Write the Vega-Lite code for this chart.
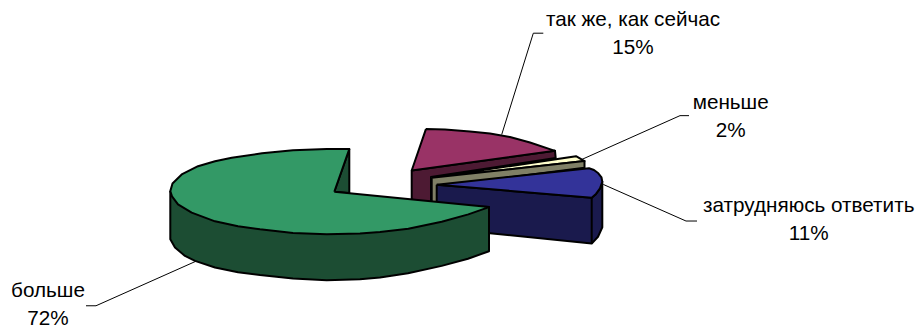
{"$schema":"https://vega.github.io/schema/vega-lite/v6.json","width":921,"height":329,"padding":0,"autosize":{"type":"fit","contains":"padding"},"background":"white","config":{"view":{"stroke":null}},
"datasets":{
"outline":[
{"p":"01 так же сторона","i":0,"x":411.7,"y":171},{"p":"01 так же сторона","i":1,"x":555,"y":151.3},{"p":"01 так же сторона","i":2,"x":555.7,"y":158.5},{"p":"01 так же сторона","i":3,"x":431,"y":177.5},{"p":"01 так же сторона","i":4,"x":431,"y":205},{"p":"01 так же сторона","i":5,"x":411.7,"y":200},{"p":"01 так же сторона","i":6,"x":411.7,"y":171},
{"p":"02 так же верх","i":0,"x":426,"y":129.3},{"p":"02 так же верх","i":1,"x":445,"y":129.8},{"p":"02 так же верх","i":2,"x":470,"y":131.8},{"p":"02 так же верх","i":3,"x":490,"y":134},{"p":"02 так же верх","i":4,"x":510,"y":137.5},{"p":"02 так же верх","i":5,"x":530,"y":143},{"p":"02 так же верх","i":6,"x":555,"y":151.3},{"p":"02 так же верх","i":7,"x":411.7,"y":171},{"p":"02 так же верх","i":8,"x":426,"y":129.3},
{"p":"03 меньше верх","i":0,"x":431.7,"y":178.3},{"p":"03 меньше верх","i":1,"x":576,"y":156.7},{"p":"03 меньше верх","i":2,"x":584.5,"y":161.5},{"p":"03 меньше верх","i":3,"x":431.7,"y":178.3},
{"p":"04 меньше сторона","i":0,"x":431.7,"y":178.3},{"p":"04 меньше сторона","i":1,"x":584.5,"y":161.5},{"p":"04 меньше сторона","i":2,"x":584.5,"y":168.3},{"p":"04 меньше сторона","i":3,"x":437,"y":187},{"p":"04 меньше сторона","i":4,"x":437,"y":205},{"p":"04 меньше сторона","i":5,"x":431.7,"y":205},{"p":"04 меньше сторона","i":6,"x":431.7,"y":178.3},
{"p":"05 затрудняюсь сторона","i":0,"x":436.7,"y":185.3},{"p":"05 затрудняюсь сторона","i":1,"x":591.7,"y":198.3},{"p":"05 затрудняюсь сторона","i":2,"x":596,"y":194.5},{"p":"05 затрудняюсь сторона","i":3,"x":600,"y":189},{"p":"05 затрудняюсь сторона","i":4,"x":602.3,"y":182.3},{"p":"05 затрудняюсь сторона","i":5,"x":602.3,"y":228},{"p":"05 затрудняюсь сторона","i":6,"x":598,"y":237.5},{"p":"05 затрудняюсь сторона","i":7,"x":591.7,"y":244.3},{"p":"05 затрудняюсь сторона","i":8,"x":490,"y":234},{"p":"05 затрудняюсь сторона","i":9,"x":436.7,"y":228},{"p":"05 затрудняюсь сторона","i":10,"x":436.7,"y":185.3},
{"p":"06 затрудняюсь ребро","i":0,"x":591.7,"y":198.3},{"p":"06 затрудняюсь ребро","i":1,"x":591.7,"y":244.3},
{"p":"07 затрудняюсь верх","i":0,"x":436.7,"y":185.3},{"p":"07 затрудняюсь верх","i":1,"x":589,"y":168.8},{"p":"07 затрудняюсь верх","i":2,"x":594,"y":170.5},{"p":"07 затрудняюсь верх","i":3,"x":598.3,"y":173.8},{"p":"07 затрудняюсь верх","i":4,"x":601.5,"y":178},{"p":"07 затрудняюсь верх","i":5,"x":602.3,"y":182.3},{"p":"07 затрудняюсь верх","i":6,"x":600,"y":189},{"p":"07 затрудняюсь верх","i":7,"x":596,"y":194.5},{"p":"07 затрудняюсь верх","i":8,"x":591.7,"y":198.3},{"p":"07 затрудняюсь верх","i":9,"x":436.7,"y":185.3},
{"p":"08 больше выемка","i":0,"x":349.3,"y":149.5},{"p":"08 больше выемка","i":1,"x":334.3,"y":192.3},{"p":"08 больше выемка","i":2,"x":349.3,"y":193.5},{"p":"08 больше выемка","i":3,"x":349.3,"y":149.5},
{"p":"09 больше сторона","i":0,"x":170.3,"y":191.7},{"p":"09 больше сторона","i":1,"x":170.3,"y":240},{"p":"09 больше сторона","i":2,"x":175,"y":248.3},{"p":"09 больше сторона","i":3,"x":185,"y":256.7},{"p":"09 больше сторона","i":4,"x":195,"y":261.7},{"p":"09 больше сторона","i":5,"x":215,"y":268.3},{"p":"09 больше сторона","i":6,"x":238,"y":273},{"p":"09 больше сторона","i":7,"x":260,"y":275.9},{"p":"09 больше сторона","i":8,"x":293,"y":279.3},{"p":"09 больше сторона","i":9,"x":326.7,"y":281},{"p":"09 больше сторона","i":10,"x":360,"y":280},{"p":"09 больше сторона","i":11,"x":380,"y":278.3},{"p":"09 больше сторона","i":12,"x":408,"y":274},{"p":"09 больше сторона","i":13,"x":441.7,"y":266.7},{"p":"09 больше сторона","i":14,"x":468,"y":259.5},{"p":"09 больше сторона","i":15,"x":489,"y":252},{"p":"09 больше сторона","i":16,"x":489,"y":207.7},{"p":"09 больше сторона","i":17,"x":170.3,"y":191.7},
{"p":"10 больше верх","i":0,"x":334.3,"y":192.3},{"p":"10 больше верх","i":1,"x":349.3,"y":149.5},{"p":"10 больше верх","i":2,"x":326.7,"y":149.5},{"p":"10 больше верх","i":3,"x":293,"y":150.7},{"p":"10 больше верх","i":4,"x":262,"y":153.8},{"p":"10 больше верх","i":5,"x":231.7,"y":158.3},{"p":"10 больше верх","i":6,"x":215,"y":161.7},{"p":"10 больше верх","i":7,"x":198,"y":166.7},{"p":"10 больше верх","i":8,"x":181.7,"y":175},{"p":"10 больше верх","i":9,"x":172.5,"y":184},{"p":"10 больше верх","i":10,"x":170.3,"y":191.7},{"p":"10 больше верх","i":11,"x":172,"y":197},{"p":"10 больше верх","i":12,"x":178,"y":205},{"p":"10 больше верх","i":13,"x":191.7,"y":213.3},{"p":"10 больше верх","i":14,"x":215,"y":222},{"p":"10 больше верх","i":15,"x":238,"y":227},{"p":"10 больше верх","i":16,"x":260,"y":230},{"p":"10 больше верх","i":17,"x":293,"y":233.7},{"p":"10 больше верх","i":18,"x":326.7,"y":235},{"p":"10 больше верх","i":19,"x":360,"y":234.3},{"p":"10 больше верх","i":20,"x":380,"y":232.8},{"p":"10 больше верх","i":21,"x":408.3,"y":229.5},{"p":"10 больше верх","i":22,"x":441.7,"y":222.5},{"p":"10 больше верх","i":23,"x":468.3,"y":215},{"p":"10 больше верх","i":24,"x":489,"y":207.7},{"p":"10 больше верх","i":25,"x":334.3,"y":192.3}
],
"leaders":[
{"s":"так же, как сейчас","i":0,"x":501.7,"y":135},{"s":"так же, как сейчас","i":1,"x":533.3,"y":33.3},{"s":"так же, как сейчас","i":2,"x":543.3,"y":33.3},
{"s":"меньше","i":0,"x":581.7,"y":160},{"s":"меньше","i":1,"x":680,"y":116},{"s":"меньше","i":2,"x":689,"y":116},
{"s":"затрудняюсь ответить","i":0,"x":603.3,"y":185},{"s":"затрудняюсь ответить","i":1,"x":686,"y":221.7},{"s":"затрудняюсь ответить","i":2,"x":697,"y":221.7},
{"s":"больше","i":0,"x":196.7,"y":261.7},{"s":"больше","i":1,"x":96,"y":306.7},{"s":"больше","i":2,"x":86,"y":306.7}
],
"labels":[
{"t":"так же, как сейчас","x":633,"y":20},{"t":"15%","x":633,"y":48},
{"t":"меньше","x":730.7,"y":103},{"t":"2%","x":730.7,"y":131},
{"t":"затрудняюсь ответить","x":808.7,"y":207},{"t":"11%","x":808.7,"y":235},
{"t":"больше","x":48,"y":292},{"t":"72%","x":48,"y":320}
]},
"layer":[
{"data":{"name":"leaders"},"mark":{"type":"line","stroke":"black","strokeWidth":1},"encoding":{"x":{"field":"x","type":"quantitative","scale":{"domain":[0,921],"nice":false,"zero":false},"axis":null},"y":{"field":"y","type":"quantitative","scale":{"domain":[329,0],"nice":false,"zero":false},"axis":null},"detail":{"field":"s"},"order":{"field":"i"}}},
{"data":{"name":"outline"},"mark":{"type":"line","filled":true,"stroke":"black","strokeWidth":2,"strokeJoin":"round"},"encoding":{"x":{"field":"x","type":"quantitative","scale":{"domain":[0,921],"nice":false,"zero":false},"axis":null},"y":{"field":"y","type":"quantitative","scale":{"domain":[329,0],"nice":false,"zero":false},"axis":null},"detail":{"field":"p"},"order":{"field":"i"},"fill":{"field":"p","type":"nominal","legend":null,"scale":{"domain":["01 так же сторона","02 так же верх","03 меньше верх","04 меньше сторона","05 затрудняюсь сторона","06 затрудняюсь ребро","07 затрудняюсь верх","08 больше выемка","09 больше сторона","10 больше верх"],"range":["#4d1a33","#993366","#ffffcc","#808066","#1a1a4d","#1a1a4d","#333399","#1c4d33","#1c4d33","#339966"]}}}},
{"data":{"name":"labels"},"mark":{"type":"text","font":"Liberation Sans","fontSize":20.7,"align":"center","baseline":"middle","color":"black"},"encoding":{"x":{"field":"x","type":"quantitative","scale":{"domain":[0,921],"nice":false,"zero":false},"axis":null},"y":{"field":"y","type":"quantitative","scale":{"domain":[329,0],"nice":false,"zero":false},"axis":null},"text":{"field":"t"}}}
]}
